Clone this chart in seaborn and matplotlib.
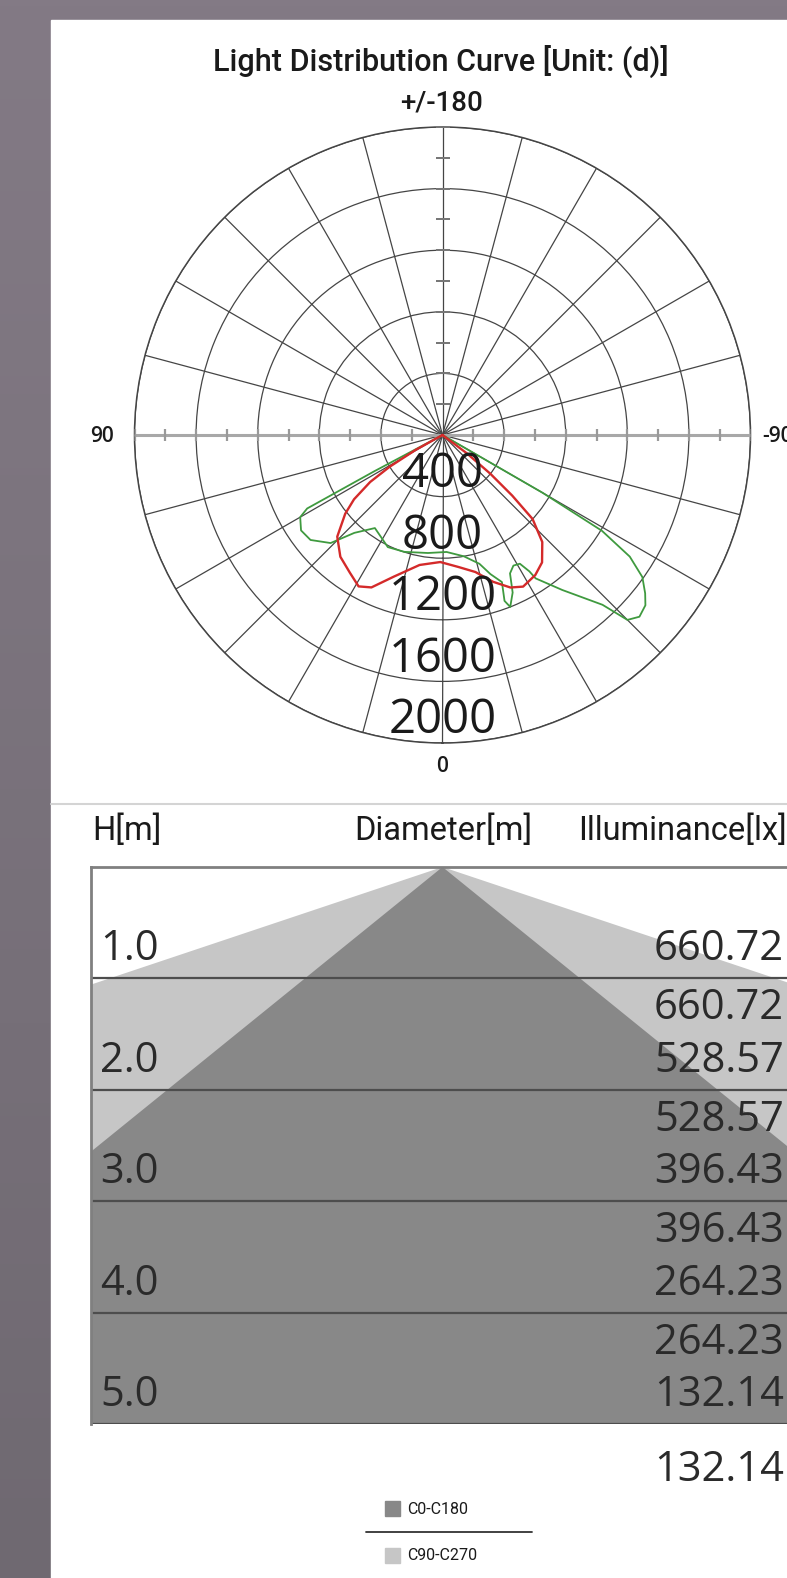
# Light distribution curve + illuminance cone table
import numpy as np
import matplotlib
matplotlib.use("Agg")
import matplotlib.pyplot as plt
from matplotlib import font_manager
from matplotlib.patches import Rectangle
import seaborn as sns

# ---- data -------------------------------------------------------------
# polar curves: gamma angle in degrees (0 = down, + = left) and intensity in cd
red_deg = [62, 61, 59, 57, 54, 51, 46, 40, 34, 29, 25, 19, 10, 1,
           -7, -13.5, -19, -24, -28, -33.5, -38, -43, -47, -49, -51, -53, -55]
red_cd = [0, 200, 400, 560, 710, 813, 950, 1032, 1077, 1124, 1092, 973, 857, 825,
          864, 915, 1008, 1084, 1115, 1091, 1050, 950, 800, 600, 400, 200, 0]

green_deg = [62, 62, 61.5, 60, 56, 51.5, 46, 42, 36, 31, 26, 18, 7, -2,
             -10, -16, -19, -22, -20.5, -21.5, -24, -26, -28.5, -31, -32.5, -33,
             -37.7, -43.3, -45, -47.3, -50, -52, -54.6, -57, -59, -60, -60]
green_cd = [0, 500, 1000, 1067, 1108, 1095, 1010, 855, 747, 774, 810, 798, 772, 760,
            800, 870, 955, 1030, 1150, 1200, 1120, 1000, 965, 975, 1050, 1110,
            1272, 1515, 1698, 1740, 1720, 1670, 1592, 1450, 1208, 751, 0]

ring_values = [400, 800, 1200, 1600, 2000]
axis_ticks = np.arange(200, 2001, 200)

# table
heights = [1.0, 2.0, 3.0, 4.0, 5.0]
illuminance = [660.72, 528.57, 396.43, 264.23, 132.14]
beam_angles = {"C90-C270": 143, "C0-C180": 102}
cone_colors = {"C90-C270": "#c6c6c6", "C0-C180": "#888888"}

# ---- style ------------------------------------------------------------
sns.set_theme(style="white")
plt.rcParams["font.family"] = ["Open Sans", "DejaVu Sans"]
names = {f.name for f in font_manager.fontManager.ttflist}
COND = "Liberation Sans Narrow" if "Liberation Sans Narrow" in names else "Roboto"

W, H = 787, 1578
fig = plt.figure(figsize=(W / 100, H / 100), dpi=100)


def fx(x):
    return x / W


def fy(y):
    return 1 - y / H


# background: grey frame + white panel
bg = fig.add_axes([0, 0, 1, 1], zorder=-10)
grad = np.linspace(0, 1, 256)[:, None]
cmap = matplotlib.colors.LinearSegmentedColormap.from_list("bg", ["#837a85", "#6f6971"])
bg.imshow(grad, aspect="auto", cmap=cmap, extent=[0, W, H, 0])
bg.add_patch(Rectangle((51, 20), W, H, color="white"))
bg.plot([51, W], [804, 804], color="#d4d4d4", lw=1.5)
bg.set_xlim(0, W)
bg.set_ylim(H, 0)
bg.axis("off")

# ---- polar light distribution curve ------------------------------------
cx, cy, R = 442.5, 435, 308
pax = fig.add_axes([fx(cx - R), fy(cy + R), 2 * R / W, 2 * R / H], projection="polar")
pax.set_facecolor("none")
pax.set_theta_zero_location("S")
pax.set_theta_direction(-1)
pax.set_ylim(0, 2000)
pax.set_yticks(ring_values)
pax.set_yticklabels([])
pax.set_xticks(np.deg2rad(np.arange(0, 360, 15)))
pax.set_xticklabels([])
pax.grid(True, color="#454545", lw=0.9)
pax.spines["polar"].set_color("#454545")
pax.spines["polar"].set_linewidth(1.1)

# axis lines with ticks
for a in (90, -90):
    pax.plot([np.deg2rad(a)] * 2, [0, 2000], color="#a8a8a8", lw=2.2, zorder=3)
    pax.plot([np.deg2rad(a)] * len(axis_ticks), axis_ticks, ls="none", marker="|",
             ms=8, mew=1.6, color="#999999", zorder=3)
pax.plot([np.pi] * len(axis_ticks), axis_ticks, ls="none", marker="_",
         ms=10, mew=1.4, color="#777777", zorder=3)

sns.lineplot(x=np.deg2rad(green_deg), y=green_cd, sort=False, estimator=None,
             color="#3f9a3f", lw=1.3, ax=pax, zorder=5)
sns.lineplot(x=np.deg2rad(red_deg), y=red_cd, sort=False, estimator=None,
             color="#d42a2a", lw=1.7, ax=pax, zorder=6)
pax.set_xlabel("")
pax.set_ylabel("")

for v in ring_values:
    pax.text(0, v - 145, str(v), ha="center", va="center", fontsize=34,
             color="#1a1a1a", zorder=7)

fig.text(fx(441), fy(61), "Light Distribution Curve [Unit: (d)]", ha="center",
         va="center", fontsize=22, family=COND, fontweight="medium", color="#1a1a1a")
fig.text(fx(442), fy(103), "+/-180", ha="center", va="center", fontsize=20,
         family=COND, fontweight="medium", color="#1a1a1a")
fig.text(fx(102), fy(436), "90", ha="center", va="center", fontsize=15,
         fontweight="semibold", color="#1a1a1a")
fig.text(fx(762), fy(436), "-90", ha="left", va="center", fontsize=15,
         fontweight="semibold", color="#1a1a1a")
fig.text(fx(442), fy(766), "0", ha="center", va="center", fontsize=15,
         fontweight="semibold", color="#1a1a1a")

# ---- table with illuminance cones -------------------------------------
top, bottom, left = 867, 1424, 91
px_per_m = (bottom - top) / heights[-1]
tax = fig.add_axes([fx(left), fy(bottom), (W - left) / W, (bottom - top) / H])
tax.set_xlim(-(cx - left) / px_per_m, (W - cx) / px_per_m)
tax.set_ylim(heights[-1], 0)
hmax = heights[-1]
for name in ["C90-C270", "C0-C180"]:
    half = np.tan(np.deg2rad(beam_angles[name] / 2)) * hmax
    tax.fill([0, -half, half], [0, hmax, hmax], color=cone_colors[name], lw=0)
for h in heights:
    tax.axhline(h, color="#4d4d4d", lw=1.6)
tax.set_xticks([])
tax.set_yticks([])
for s in ["right", "bottom"]:
    tax.spines[s].set_visible(False)
for s in ["left", "top"]:
    tax.spines[s].set_color("#808080")
    tax.spines[s].set_linewidth(2)

x_lab = tax.get_xlim()[0] + 0.08
x_val = (654 - cx) / px_per_m
for i, h in enumerate(heights):
    tax.text(x_lab, h - 0.26, f"{h:.1f}", ha="left", va="center", fontsize=30,
             color="#2a2a2a")
    tax.text(x_val, h - 0.26, f"{illuminance[i]:.2f}", ha="left", va="center",
             fontsize=30, color="#2a2a2a")
    # repeated value at the top of the next row
    nxt = h + 0.27 if i < len(heights) - 1 else h + 0.41
    tax.text(x_val, nxt, f"{illuminance[i]:.2f}", ha="left", va="center",
             fontsize=30, color="#2a2a2a", clip_on=False)

fig.text(fx(92), fy(831), "H[m]", ha="left", va="center", fontsize=23.5,
         family=COND, color="#1a1a1a")
fig.text(fx(443), fy(831), "Diameter[m]", ha="center", va="center", fontsize=23.5,
         family=COND, color="#1a1a1a")
fig.text(fx(578), fy(831), "Illuminance[lx]", ha="left", va="center", fontsize=23.5,
         family=COND, color="#1a1a1a")

# legend
for k, name in enumerate(["C0-C180", "C90-C270"]):
    yk = 1509 + k * 47
    bg.add_patch(Rectangle((385, yk - 8), 15, 15, color=cone_colors[name]))
    bg.text(407, yk, name, ha="left", va="center", fontsize=11.5, family=COND,
            color="#1a1a1a")
bg.plot([366, 532], [1532, 1532], color="#333333", lw=1.3)

fig.savefig("out.png", dpi=100)
